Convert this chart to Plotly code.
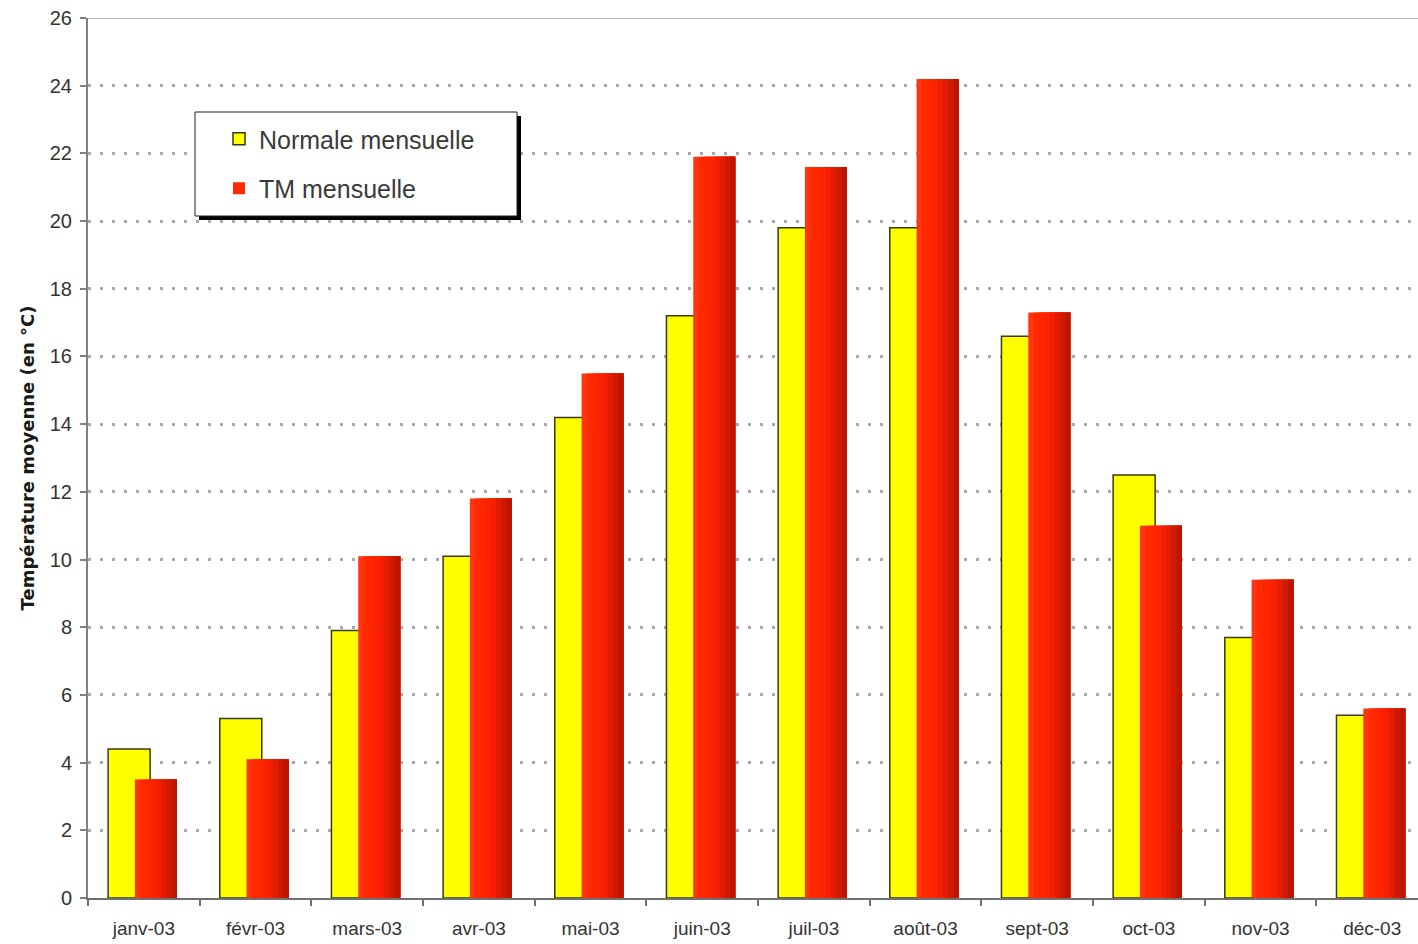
import plotly.graph_objects as go

# Monthly mean temperatures, 2003 (°C)
months = ["janv-03", "févr-03", "mars-03", "avr-03", "mai-03", "juin-03",
          "juil-03", "août-03", "sept-03", "oct-03", "nov-03", "déc-03"]
normale = [4.4, 5.3, 7.9, 10.1, 14.2, 17.2, 19.8, 19.8, 16.6, 12.5, 7.7, 5.4]
tm_mensuelle = [3.5, 4.1, 10.1, 11.8, 15.5, 21.9, 21.6, 24.2, 17.3, 11.0, 9.4, 5.6]

y_ticks = list(range(0, 27, 2))

W, H = 1418, 944
ML, MR, MT, MB = 88, 0, 18, 46
PW, PH = W - ML - MR, H - MT - MB


def px_x(p):
    return (p - ML) / PW


def px_y(p):
    return (H - MB - p) / PH


BAR_W = 0.376
YEL_OFF = -0.32
RED_OFF = -0.08

# shades used to give the red bars a left-to-right shading
red_shades = ["#ff3510", "#ff2a00", "#ff2600", "#ff2200", "#f41f00",
              "#e21c00", "#cf1900", "#bd1600"]

fig = go.Figure()

fig.add_trace(go.Bar(
    x=months, y=normale, name="Normale mensuelle",
    width=BAR_W, offset=YEL_OFF,
    marker=dict(color="#ffff00", line=dict(color="#3a3a00", width=1.5)),
    legendgroup="normale",
))

n = len(red_shades)
step = BAR_W / n
for i, c in enumerate(red_shades):
    fig.add_trace(go.Bar(
        x=months, y=tm_mensuelle, name="TM mensuelle",
        width=BAR_W - i * step, offset=RED_OFF + i * step,
        marker=dict(color=c, line=dict(width=0)),
        legendgroup="tm",
        showlegend=(i == 1),
    ))

shapes = [
    # frame top line
    dict(type="line", xref="paper", yref="y", x0=0, x1=1, y0=26, y1=26,
         line=dict(color="#b8b8b8", width=2), layer="above"),
    # legend box shadow and frame
    dict(type="rect", xref="paper", yref="paper",
         x0=px_x(199), x1=px_x(521), y0=px_y(220), y1=px_y(116),
         fillcolor="#000000", line=dict(width=0), layer="above"),
    dict(type="rect", xref="paper", yref="paper",
         x0=px_x(195), x1=px_x(517), y0=px_y(216), y1=px_y(112),
         fillcolor="#ffffff", line=dict(color="#202020", width=1), layer="above"),
]

fig.update_layout(
    width=W, height=H,
    margin=dict(l=ML, r=MR, t=MT, b=MB, pad=0),
    paper_bgcolor="#ffffff", plot_bgcolor="#ffffff",
    barmode="overlay",
    font=dict(family="Liberation Sans, Arial, sans-serif", color="#333333"),
    showlegend=True,
    legend=dict(
        x=px_x(219), y=px_y(116), xanchor="left", yanchor="top",
        bgcolor="rgba(0,0,0,0)", borderwidth=0,
        font=dict(size=25, color="#3a3a3a"),
        traceorder="grouped", tracegroupgap=14,
        itemwidth=30,
    ),
    shapes=shapes,
    xaxis=dict(
        type="category", range=[-0.5, 11.41],
        tickson="boundaries", ticks="outside", ticklen=6, tickwidth=2,
        tickcolor="#707070", ticklabelstandoff=12,
        showline=True, linecolor="#707070", linewidth=2,
        showgrid=False, tickfont=dict(size=19, color="#333333"),
    ),
    yaxis=dict(
        range=[0, 26], tickvals=y_ticks, ticks="outside", ticklen=6, tickwidth=2,
        tickcolor="#808080", ticklabelstandoff=4,
        showline=True, linecolor="#808080", linewidth=2,
        showgrid=True, gridcolor="#a8a8a8", gridwidth=3, griddash="3px,9px",
        zeroline=False, tickfont=dict(size=20, color="#333333"),
        title=dict(text="Température moyenne (en °C)", standoff=10,
                   font=dict(family="DejaVu Sans, sans-serif", size=18,
                             color="#1a1a1a", weight="bold")),
    ),
)

fig.write_html("out.html")
